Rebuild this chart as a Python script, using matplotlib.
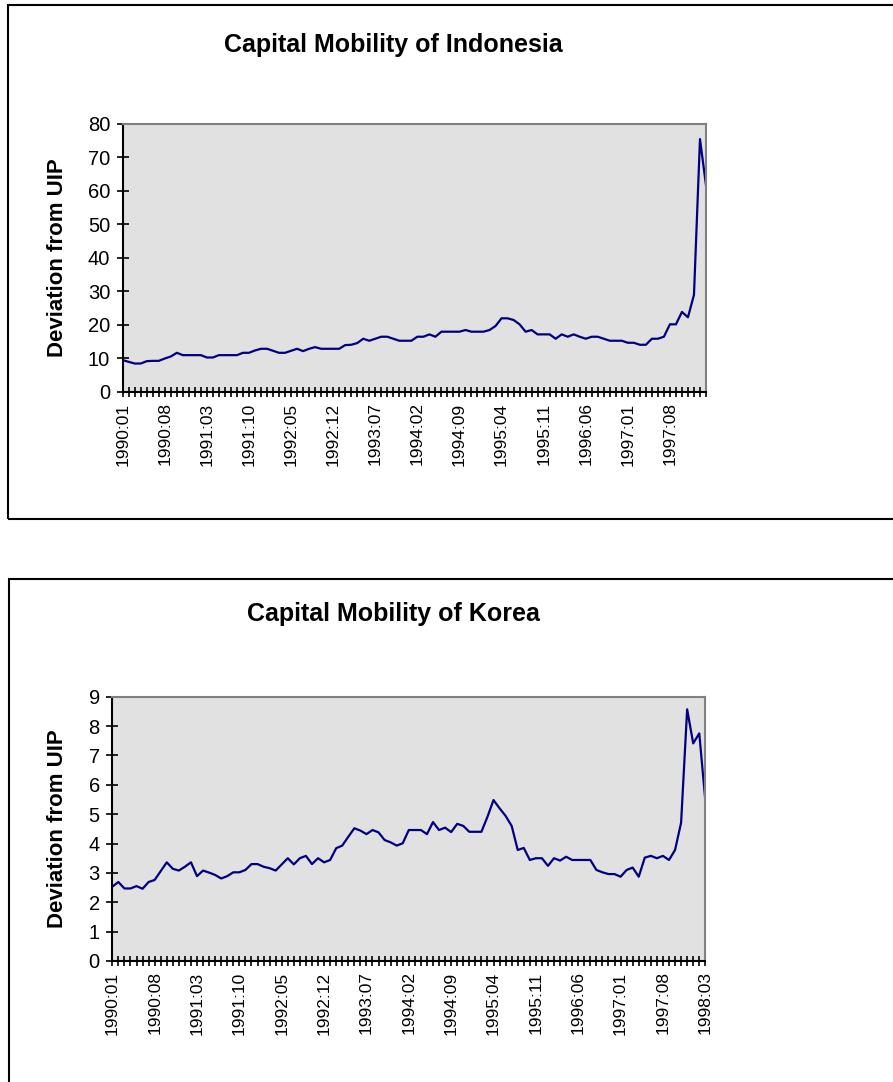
import matplotlib
matplotlib.use('Agg')
import matplotlib.pyplot as plt
from matplotlib.patches import Rectangle

plt.rcParams['font.family'] = ['Liberation Sans', 'DejaVu Sans']

# monthly deviation from UIP
indonesia = [9.5, 9.0, 8.5, 8.5, 9.2, 9.3, 9.3, 10.0, 10.6, 11.7,
             11.0, 11.0, 11.0, 11.0, 10.3, 10.3, 11.0, 11.0, 11.0, 11.0,
             11.7, 11.7, 12.4, 12.9, 12.9, 12.3, 11.7, 11.7, 12.3, 12.9,
             12.2, 12.9, 13.4, 12.9, 12.9, 12.9, 12.9, 14.0, 14.1, 14.6,
             15.9, 15.3, 15.9, 16.5, 16.5, 15.9, 15.3, 15.3, 15.3, 16.5,
             16.5, 17.2, 16.5, 18.0, 18.0, 18.0, 18.0, 18.5, 18.0, 18.0,
             18.0, 18.5, 19.7, 22.0, 22.0, 21.5, 20.2, 18.0, 18.5, 17.2,
             17.2, 17.2, 15.9, 17.2, 16.5, 17.2, 16.5, 15.9, 16.5, 16.5,
             15.9, 15.3, 15.3, 15.3, 14.7, 14.7, 14.1, 14.1, 15.9, 15.9,
             16.5, 20.2, 20.2, 23.9, 22.3, 29.0, 75.5, 61.7]

korea = [2.53, 2.69, 2.47, 2.47, 2.55, 2.46, 2.69, 2.76, 3.06, 3.36,
         3.14, 3.08, 3.21, 3.36, 2.89, 3.08, 3.01, 2.93, 2.81, 2.89,
         3.02, 3.02, 3.10, 3.30, 3.30, 3.21, 3.16, 3.08, 3.29, 3.50,
         3.29, 3.50, 3.58, 3.30, 3.50, 3.36, 3.44, 3.84, 3.93, 4.23,
         4.52, 4.44, 4.32, 4.46, 4.38, 4.12, 4.04, 3.93, 4.01, 4.46,
         4.46, 4.46, 4.32, 4.73, 4.46, 4.54, 4.39, 4.67, 4.60, 4.40,
         4.40, 4.40, 4.91, 5.48, 5.20, 4.94, 4.60, 3.78, 3.85, 3.44,
         3.50, 3.50, 3.24, 3.50, 3.42, 3.55, 3.44, 3.44, 3.44, 3.44,
         3.10, 3.02, 2.96, 2.96, 2.87, 3.10, 3.18, 2.87, 3.52, 3.58,
         3.50, 3.58, 3.44, 3.78, 4.71, 8.57, 7.41, 7.75, 5.48]

# every 7th month is labelled
tick_labels = ['1990:01', '1990:08', '1991:03', '1991:10', '1992:05',
               '1992:12', '1993:07', '1994:02', '1994:09', '1995:04',
               '1995:11', '1996:06', '1997:01', '1997:08', '1998:03']

W, H = 893, 1082
fig = plt.figure(figsize=(W / 100, H / 100), dpi=100)

# chart frames
fig.add_artist(Rectangle((8 / W, 1 - 519 / H), 900 / W, 514 / H, transform=fig.transFigure,
                         fill=False, edgecolor='black', linewidth=1.5))
fig.add_artist(Rectangle((9 / W, -0.01), 900 / W, 1 - 579 / H + 0.01, transform=fig.transFigure,
                         fill=False, edgecolor='black', linewidth=1.5))


def draw_chart(rect, values, ymax, ystep, title, title_y, ylabel):
    ax = fig.add_axes(rect)
    ax.set_facecolor('#e1e1e1')
    x = list(range(len(values)))
    ax.plot(x, values, color='#000080', linewidth=1.6)
    ax.set_xlim(0, len(values) - 1)
    ax.set_ylim(0, ymax)
    ax.set_yticks(range(0, ymax + 1, ystep))
    ax.set_xticks(x, minor=True)
    major = list(range(0, len(values), 7))
    ax.set_xticks(major)
    ax.set_xticklabels(tick_labels[:len(major)], rotation=90, fontsize=12.5)
    ax.tick_params(axis='y', labelsize=14.5, direction='inout', length=8, width=1.2, pad=5)
    ax.tick_params(axis='x', which='both', direction='inout', length=7, width=1.2)
    ax.tick_params(axis='x', which='major', pad=4)
    for side in ['left', 'bottom']:
        ax.spines[side].set_linewidth(1.5)
        ax.spines[side].set_color('black')
    for side in ['top', 'right']:
        ax.spines[side].set_linewidth(1.5)
        ax.spines[side].set_color('#808080')
    ax.set_ylabel(ylabel, fontsize=16, fontweight='bold')
    ax.yaxis.set_label_coords((68 - rect[0] * W) / (rect[2] * W), 0.5)
    fig.text(393 / W, 1 - title_y / H, title, ha='center', va='center',
             fontsize=18, fontweight='bold')
    return ax


draw_chart([122.7 / W, 1 - 392 / H, 583.3 / W, 268 / H], indonesia, 80, 10,
           'Capital Mobility of Indonesia', 45, 'Deviation from UIP')
draw_chart([112.3 / W, 1 - 961 / H, 593 / W, 264.3 / H], korea, 9, 1,
           'Capital Mobility of Korea', 614, 'Deviation from UIP')

fig.savefig('out.png', dpi=100)
